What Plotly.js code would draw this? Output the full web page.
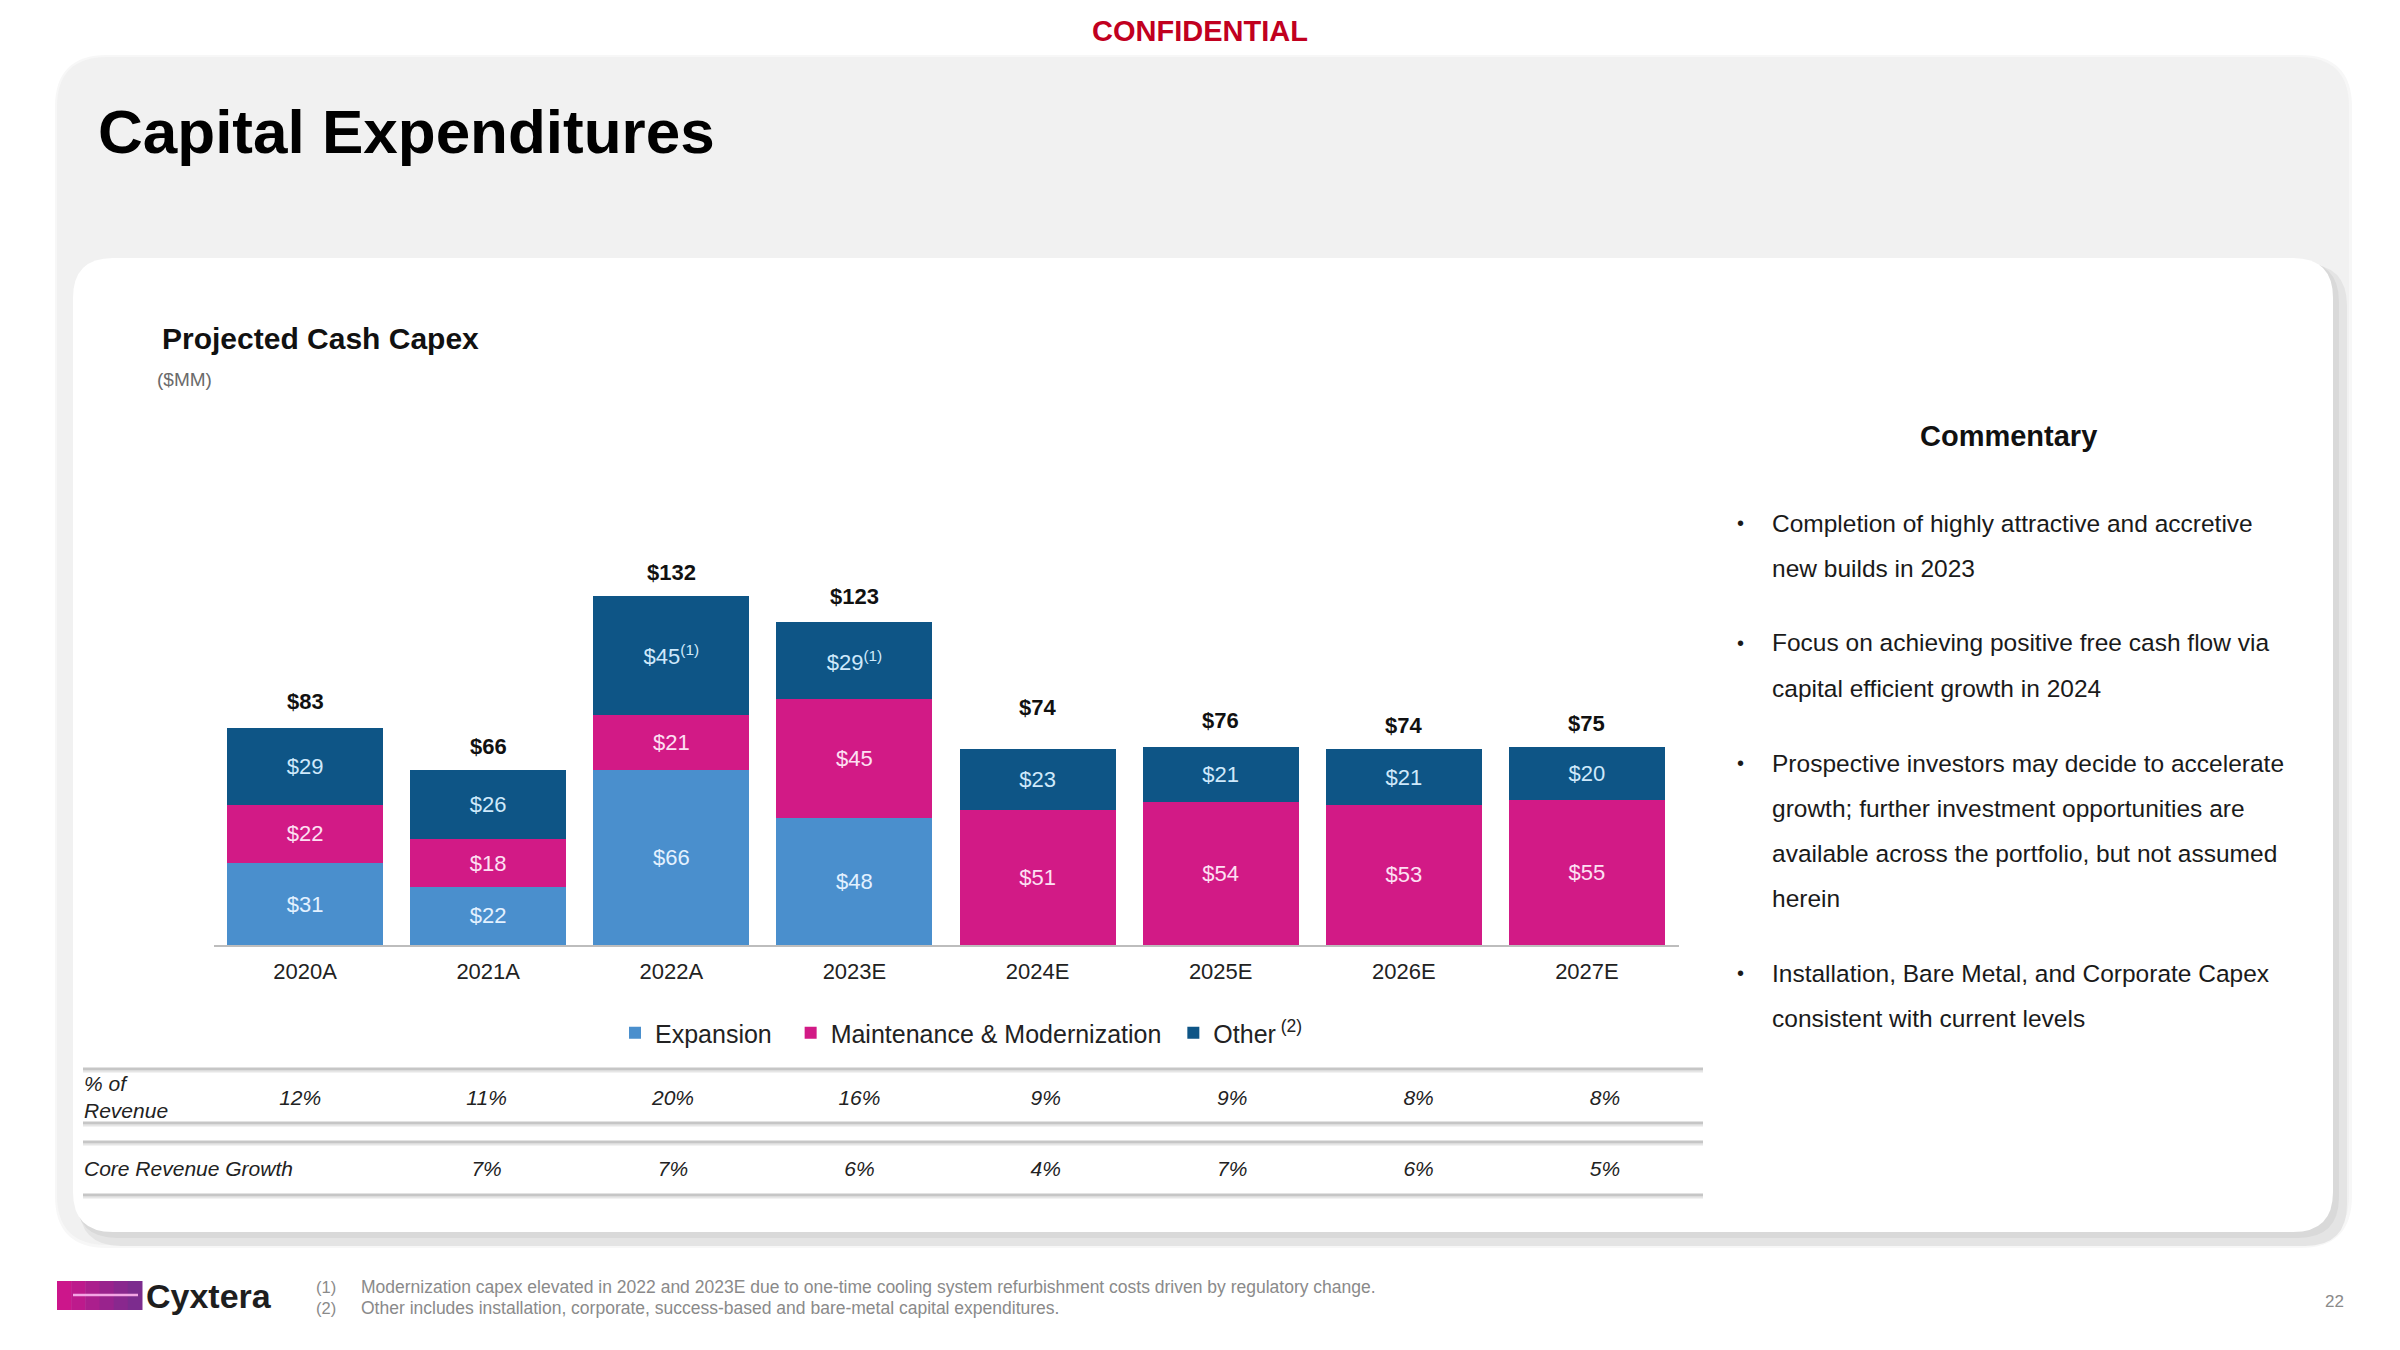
<!DOCTYPE html>
<html>
<head>
<meta charset="utf-8">
<script src="https://cdn.plot.ly/plotly-3.0.1.min.js"></script>
<style>
  html, body { margin: 0; padding: 0; background: #ffffff; }
  #chart { width: 2400px; height: 1350px; }
</style>
</head>
<body>
<div id="chart"></div>
<script>
// ---------------- DATA ----------------
const categories   = ['2020A', '2021A', '2022A', '2023E', '2024E', '2025E', '2026E', '2027E'];
const expansion    = [31, 22, 66, 48, null, null, null, null];
const maintenance  = [22, 18, 21, 45, 51, 54, 53, 55];
const other        = [29, 26, 45, 29, 23, 21, 21, 20];
const otherNotes   = ['', '', '(1)', '(1)', '', '', '', ''];
const totals       = [83, 66, 132, 123, 74, 76, 74, 75];
const seriesNames  = ['Expansion', 'Maintenance & Modernization', 'Other<sup> (2)</sup>'];
const pctRevenue   = ['12%', '11%', '20%', '16%', '9%', '9%', '8%', '8%'];
const coreGrowth   = [null, '7%', '7%', '6%', '4%', '7%', '6%', '5%'];
const rowLabels    = ['% of<br>Revenue', 'Core Revenue Growth'];
const commentary = [
  ['Completion of highly attractive and accretive', 'new builds in 2023'],
  ['Focus on achieving positive free cash flow via', 'capital efficient growth in 2024'],
  ['Prospective investors may decide to accelerate', 'growth; further investment opportunities are',
   'available across the portfolio, but not assumed', 'herein'],
  ['Installation, Bare Metal, and Corporate Capex', 'consistent with current levels']
];
const footnotes = [
  ['(1)', 'Modernization capex elevated in 2022 and 2023E due to one-time cooling system refurbishment costs driven by regulatory change.'],
  ['(2)', 'Other includes installation, corporate, success-based and bare-metal capital expenditures.']
];

// ---------------- STYLE ----------------
const FONT = 'Liberation Sans, Arial, Helvetica, sans-serif';
const W = 2400, H = 1350;
const X = px => px / W;
const Y = py => 1 - py / H;
const C_EXP = '#4a8fcd', C_MM = '#d21a86', C_OTH = '#0e5586';
const legendPad = ['\u00a0\u00a0', '\u00a0', ''];   // spacing between legend entries
const totalLift = { 4: 18 };                         // the 2024E total sits higher in the original

function rrect(x0, y0, x1, y1, r) {
  const p = (x, y) => X(x).toFixed(5) + ',' + Y(y).toFixed(5);
  return 'M' + p(x0 + r, y0) + ' L' + p(x1 - r, y0) + ' Q' + p(x1, y0) + ' ' + p(x1, y0 + r) +
         ' L' + p(x1, y1 - r) + ' Q' + p(x1, y1) + ' ' + p(x1 - r, y1) +
         ' L' + p(x0 + r, y1) + ' Q' + p(x0, y1) + ' ' + p(x0, y1 - r) +
         ' L' + p(x0, y0 + r) + ' Q' + p(x0, y0) + ' ' + p(x0 + r, y0) + ' Z';
}

function barTrace(k, vals, color, txtColor, notes) {
  const keep = vals.map((v, i) => i).filter(i => vals[i] != null);
  return {
    type: 'bar', name: seriesNames[k] + legendPad[k],
    x: keep.map(i => categories[i]), y: keep.map(i => vals[i]),
    marker: { color: color, line: { width: 0 } },
    text: keep.map(i => '$' + vals[i] + (notes && notes[i] ? '<sup>' + notes[i] + '</sup>' : '')),
    textposition: 'inside', insidetextanchor: 'middle',
    textangle: 0, constraintext: 'none',
    textfont: { family: FONT, size: 22, color: txtColor },
    hoverinfo: 'skip', xaxis: 'x', yaxis: 'y'
  };
}

function rowTrace(vals, rowY) {
  const keep = vals.map((v, i) => i).filter(i => vals[i] != null && vals[i] !== '');
  return { type: 'scatter', mode: 'text', x: keep, y: keep.map(() => rowY), text: keep.map(i => vals[i]),
    textfont: { family: FONT, size: 21, color: '#222', style: 'italic' },
    xaxis: 'x2', yaxis: 'y2', showlegend: false, hoverinfo: 'skip' };
}

const traces = [
  barTrace(0, expansion, C_EXP, '#e3f1ff'),
  barTrace(1, maintenance, C_MM, '#fde0f3'),
  barTrace(2, other, C_OTH, '#cfe9fb', otherNotes),
  rowTrace(pctRevenue, 1),
  rowTrace(coreGrowth, 0)
];

// ---------------- SHAPES ----------------
const shapes = [];
shapes.push({ type: 'path', xref: 'paper', yref: 'paper', layer: 'below', path: rrect(55, 55, 2352, 1248, 52),
  fillcolor: '#f7f7f7', line: { width: 0 } });
shapes.push({ type: 'path', xref: 'paper', yref: 'paper', layer: 'below', path: rrect(57, 57, 2349, 1245, 50),
  fillcolor: '#f1f1f1', line: { width: 0 } });
shapes.push({ type: 'path', xref: 'paper', yref: 'paper', layer: 'below', path: rrect(79, 264, 2347, 1246, 42),
  fillcolor: '#e4e4e4', line: { width: 0 } });
shapes.push({ type: 'path', xref: 'paper', yref: 'paper', layer: 'below', path: rrect(76, 261, 2339, 1238, 41),
  fillcolor: '#d9d9d9', line: { width: 0 } });
shapes.push({ type: 'path', xref: 'paper', yref: 'paper', layer: 'below', path: rrect(73, 258, 2333, 1232, 40),
  fillcolor: '#ffffff', line: { width: 0 } });
[1069, 1123, 1142, 1195].forEach(py => {
  shapes.push({ type: 'line', xref: 'paper', yref: 'paper', layer: 'below', x0: X(83), x1: X(1703), y0: Y(py + 2.5), y1: Y(py + 2.5),
    line: { color: '#e6e6e6', width: 2 } });
  shapes.push({ type: 'line', xref: 'paper', yref: 'paper', layer: 'below', x0: X(83), x1: X(1703), y0: Y(py), y1: Y(py),
    line: { color: '#c6c6c6', width: 3 } });
});
const logoCols = ['#cc168b', '#bd1a8c', '#ab1f8d', '#99238d', '#89288e', '#7c2c8e'];
const lx0 = 57, lx1 = 142, lw = (lx1 - lx0) / logoCols.length;
logoCols.forEach((c, i) => {
  shapes.push({ type: 'rect', xref: 'paper', yref: 'paper', x0: X(lx0 + i * lw), x1: X(lx0 + (i + 1) * lw + 0.5),
    y0: Y(1310), y1: Y(1281), fillcolor: c, line: { width: 0 } });
});
shapes.push({ type: 'line', xref: 'paper', yref: 'paper', x0: X(73), x1: X(138), y0: Y(1295), y1: Y(1295),
  line: { color: '#f3a6e4', width: 2.5 } });

// ---------------- ANNOTATIONS ----------------
const annotations = [];
function ann(text, px, py, o) {
  annotations.push(Object.assign({ text: text, xref: 'paper', yref: 'paper', x: X(px), y: Y(py),
    showarrow: false, xanchor: 'left', yanchor: 'middle',
    font: { family: FONT, size: 20, color: '#1a1a1a' } }, o || {}));
}
ann('<b>CONFIDENTIAL</b>', 1200, 31, { xanchor: 'center', font: { family: FONT, size: 29, color: '#c1001f' } });
ann('<b>Capital Expenditures</b>', 96, 131, { font: { family: FONT, size: 62, color: '#000000' } });
ann('<b>Projected Cash Capex</b>', 160, 339, { font: { family: FONT, size: 30, color: '#111111' } });
ann('($MM)', 155, 380, { font: { family: FONT, size: 19, color: '#6a6a6a' } });

categories.forEach((c, i) => {
  annotations.push({ text: '<b>$' + totals[i] + '</b>', xref: 'x', yref: 'y', x: c, y: totals[i],
    showarrow: false, xanchor: 'center', yanchor: 'bottom', yshift: 9 + (totalLift[i] || 0),
    font: { family: FONT, size: 22, color: '#111111' } });
});

ann('<i>' + rowLabels[0] + '</i>', 82, 1097, { font: { family: FONT, size: 21, color: '#222' }, align: 'left' });
ann('<i>' + rowLabels[1] + '</i>', 82, 1168, { font: { family: FONT, size: 21, color: '#222' } });

ann('<b>Commentary</b>', 2008, 436, { xanchor: 'center', font: { family: FONT, size: 29, color: '#111' } });
let cy = 523;
commentary.forEach(para => {
  ann('•', 1740, cy, { xanchor: 'center', font: { family: FONT, size: 20, color: '#1a1a1a' } });
  para.forEach(line => {
    ann(line, 1770, cy, { font: { family: FONT, size: 24.5, color: '#1a1a1a' } });
    cy += 45;
  });
  cy += 30;
});

footnotes.forEach((f, i) => {
  const py = 1287 + i * 21;
  ann(f[0], 314, py, { font: { family: FONT, size: 16.5, color: '#8a8a8a' } });
  ann(f[1], 359, py, { font: { family: FONT, size: 17.5, color: '#8a8a8a' } });
});

ann('<b>Cyxtera</b>', 144, 1296, { font: { family: FONT, size: 34, color: '#1e1e1e' } });
ann('22', 2334, 1301, { xanchor: 'center', font: { family: FONT, size: 17, color: '#8a8a8a' } });

// ---------------- LAYOUT ----------------
const layout = {
  width: W, height: H,
  margin: { l: 0, r: 0, t: 0, b: 0, pad: 0 },
  paper_bgcolor: '#ffffff', plot_bgcolor: 'rgba(0,0,0,0)',
  font: { family: FONT, color: '#222' },
  barmode: 'stack', bargap: 0.148,
  showlegend: true,
  legend: {
    orientation: 'h', x: X(615), y: Y(1033), xanchor: 'left', yanchor: 'middle',
    bgcolor: 'rgba(0,0,0,0)', traceorder: 'normal',
    font: { family: FONT, size: 25, color: '#222' }, itemclick: false, itemdoubleclick: false
  },
  xaxis: {
    domain: [213.5 / W, 1678.5 / W], type: 'category', range: [-0.5, 7.5],
    categoryorder: 'array', categoryarray: categories,
    showline: true, linecolor: '#bdbdbd', linewidth: 2, ticks: '', showgrid: false, zeroline: false,
    tickfont: { family: FONT, size: 22, color: '#222' }, ticklabelstandoff: 6, fixedrange: true
  },
  yaxis: {
    domain: [Y(945), Y(945) + 150 * 2.645 / H], range: [0, 150], visible: false, fixedrange: true
  },
  xaxis2: { domain: [207 / W, 1698.2 / W], range: [-0.5, 7.5], visible: false, anchor: 'y2', fixedrange: true },
  yaxis2: { domain: [Y(1206), Y(1064)], range: [-0.5, 1.5], visible: false, anchor: 'x2', fixedrange: true },
  shapes: shapes,
  annotations: annotations,
  hovermode: false
};

Plotly.newPlot('chart', traces, layout, { displayModeBar: false, staticPlot: true });
</script>
</body>
</html>
